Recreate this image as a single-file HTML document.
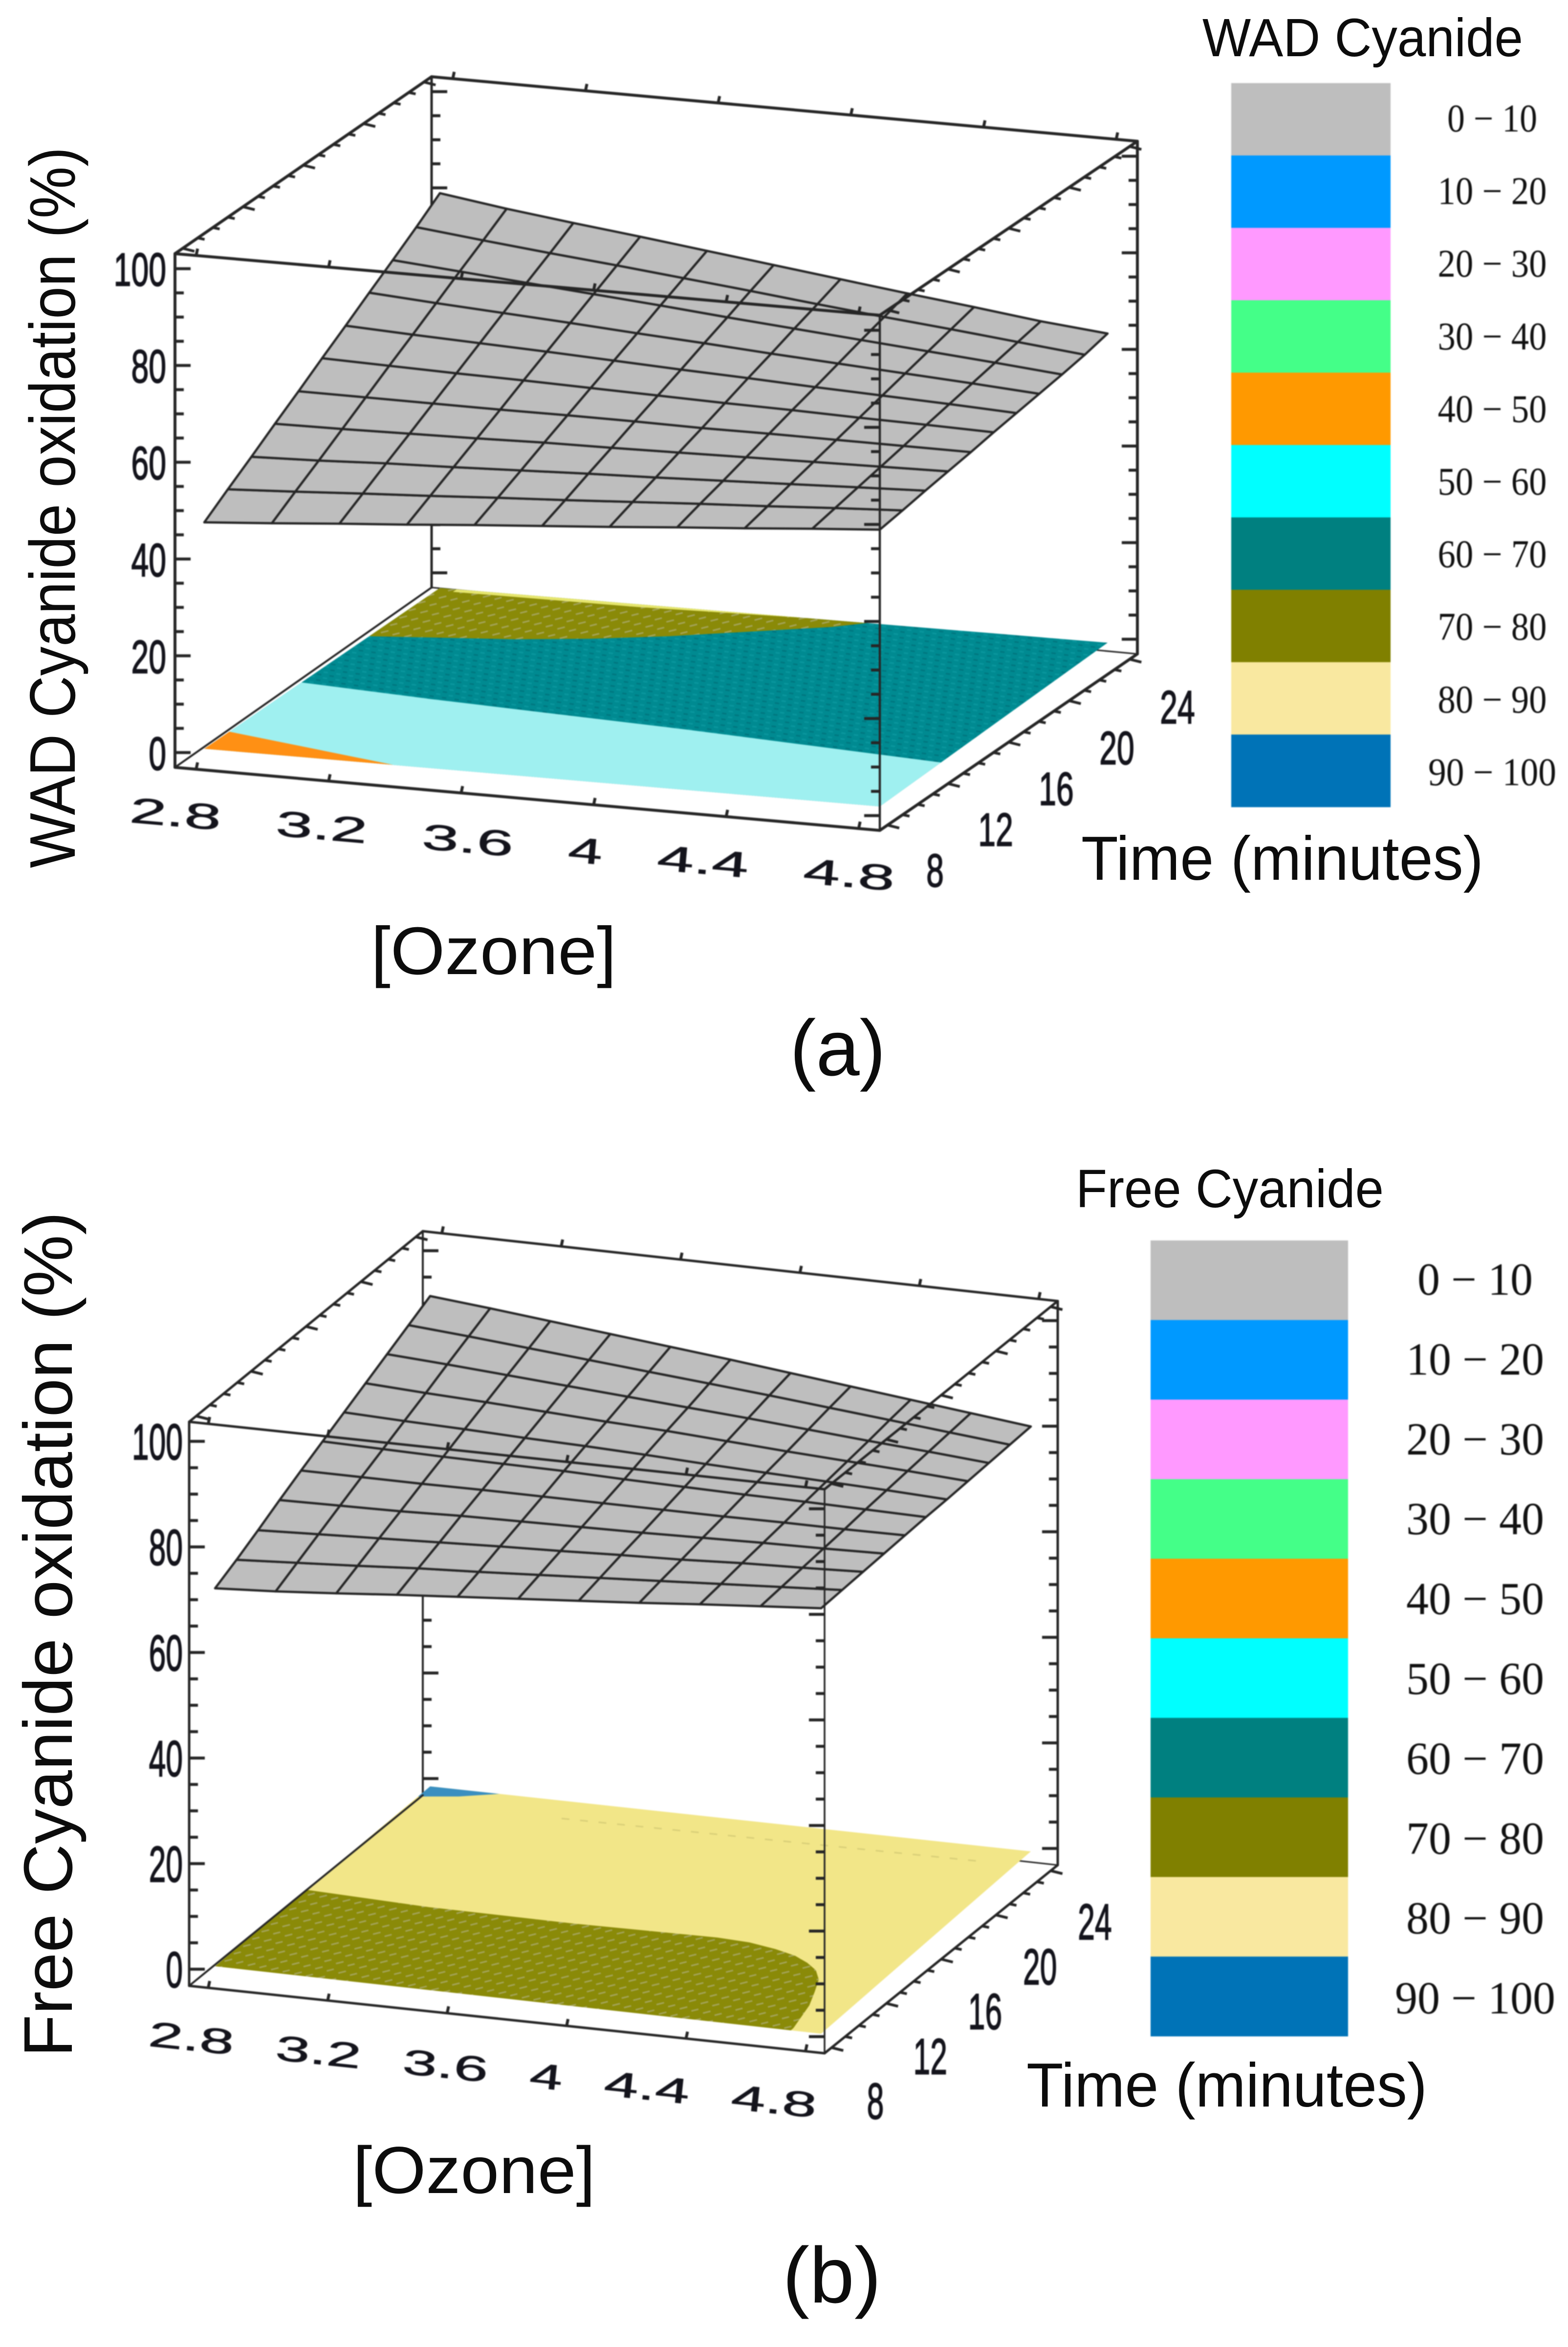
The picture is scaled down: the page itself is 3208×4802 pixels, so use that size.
<!DOCTYPE html>
<html lang="en">
<head>
<meta charset="utf-8">
<title>WAD and free cyanide oxidation response surfaces</title>
<style>
html,body{margin:0;padding:0;background:#fff}
svg{display:block}
#panel-a,#panel-b{filter:blur(1.1px)}
.title{font-family:"Liberation Sans",sans-serif;fill:#0c0c0c}
.tick{font-family:"Liberation Sans",sans-serif;fill:#14141c;stroke:#14141c;stroke-width:2px}
.legend-text{font-family:"Liberation Serif",serif;fill:#111}
</style>
</head>
<body>
<svg id="figure" xmlns="http://www.w3.org/2000/svg" width="3208" height="4802" viewBox="0 0 3208 4802">
  <defs>
    <pattern id="teal-speckle" width="26" height="12" patternUnits="userSpaceOnUse" patternTransform="rotate(8)">
      <rect width="26" height="12" fill="#008a91"/>
      <rect x="2" y="2" width="9" height="3" fill="#00767f"/>
      <rect x="15" y="8" width="9" height="3" fill="#0a979e"/>
    </pattern>
    <pattern id="olive-speckle" width="44" height="20" patternUnits="userSpaceOnUse" patternTransform="rotate(-14)">
      <rect width="44" height="20" fill="#8a8a08"/>
      <rect x="3" y="3" width="16" height="3" fill="#a4a45c"/>
      <rect x="25" y="13" width="15" height="3" fill="#a4a45c"/>
    </pattern>
  </defs>

  <g id="panel-a"></g>
  <g id="panel-b"></g>

  <text class="title" transform="translate(153,1776) rotate(-90)" font-size="132" textLength="1475" lengthAdjust="spacingAndGlyphs">WAD Cyanide oxidation (%)</text>
  <text class="title" x="759" y="1993" font-size="138" textLength="502" lengthAdjust="spacingAndGlyphs">[Ozone]</text>
  <text class="title" x="2212" y="1800" font-size="127" textLength="823" lengthAdjust="spacingAndGlyphs">Time (minutes)</text>
  <text class="title" x="2460" y="115" font-size="110" textLength="656" lengthAdjust="spacingAndGlyphs">WAD Cyanide</text>
  <text class="title" x="1616" y="2200" font-size="162" textLength="196" lengthAdjust="spacingAndGlyphs">(a)</text>

  <text class="title" transform="translate(147,4209) rotate(-90)" font-size="141" textLength="1730" lengthAdjust="spacingAndGlyphs">Free Cyanide oxidation (%)</text>
  <text class="title" x="722" y="4487" font-size="136" textLength="496" lengthAdjust="spacingAndGlyphs">[Ozone]</text>
  <text class="title" x="2100" y="4310" font-size="127" textLength="820" lengthAdjust="spacingAndGlyphs">Time (minutes)</text>
  <text class="title" x="2201" y="2470" font-size="110" textLength="630" lengthAdjust="spacingAndGlyphs">Free Cyanide</text>
  <text class="title" x="1601" y="4711" font-size="162" textLength="202" lengthAdjust="spacingAndGlyphs">(b)</text>
</svg>

<script>
// ---------- Shared axis data ----------
const ozoneTicks = ['2.8', '3.2', '3.6', '4', '4.4', '4.8'];
const timeTicks = ['8', '12', '16', '20', '24'];
const percentTicks = ['0', '20', '40', '60', '80', '100'];
const legendLabels = ['0 − 10', '10 − 20', '20 − 30', '30 − 40', '40 − 50', '50 − 60', '60 − 70', '70 − 80', '80 − 90', '90 − 100'];
const legendColors = ['#bebebe', '#0099ff', '#ff99ff', '#44ff88', '#ff9900', '#00ffff', '#008080', '#808000', '#f9e8a0', '#0073b7'];

// Surface grid coordinates
const surfaceOzone = [2.8, 3.0, 3.2, 3.4, 3.6, 3.8, 4.0, 4.2, 4.4, 4.6, 4.8];
const surfaceTime = [8, 9.6, 11.2, 12.8, 14.4, 16, 17.6, 19.2, 20.8, 22.4, 24];

// ---------- Panel (a) WAD cyanide ----------
const wadSurface = [
  [46.8, 47.8, 48.9, 49.9, 51.0, 52.0, 53.0, 54.1, 55.1, 56.2, 57.2],
  [50.3, 51.0, 51.8, 52.5, 53.3, 54.0, 54.8, 55.6, 56.3, 57.1, 57.8],
  [53.7, 54.1, 54.7, 55.1, 55.6, 56.1, 56.5, 57.0, 57.5, 58.0, 58.5],
  [57.2, 57.3, 57.5, 57.7, 58.0, 58.1, 58.3, 58.5, 58.7, 58.9, 59.1],
  [60.6, 60.5, 60.4, 60.3, 60.3, 60.2, 60.0, 60.0, 59.9, 59.8, 59.7],
  [64.1, 63.7, 63.3, 63.0, 62.6, 62.2, 61.8, 61.5, 61.1, 60.8, 60.4],
  [67.5, 66.8, 66.2, 65.6, 64.9, 64.2, 63.6, 62.9, 62.3, 61.7, 61.0],
  [71.0, 70.0, 69.1, 68.2, 67.2, 66.3, 65.3, 64.4, 63.5, 62.6, 61.6],
  [74.4, 73.2, 72.0, 70.8, 69.6, 68.3, 67.1, 65.9, 64.7, 63.5, 62.2],
  [77.9, 76.3, 74.8, 73.4, 71.9, 70.4, 68.8, 67.3, 65.9, 64.4, 62.9],
  [81.6, 79.5, 77.7, 76.0, 74.2, 72.4, 70.6, 68.8, 67.1, 65.3, 63.9]
];
const wadOliveOzone = [2.8, 3.0, 3.2, 3.4, 3.6, 3.8, 4.0, 4.08];
const wadOliveTime = [19.2, 19.6, 20.0, 20.6, 21.4, 22.4, 23.4, 24];
const wadStripOzone = [2.85, 3.4, 3.9];
const wadStripTime = [23.75, 23.75, 24];
const wadCyanOzone = [2.8, 3.2, 3.6, 4.0, 4.4, 4.8];
const wadCyanTime = [14.6, 14.1, 13.7, 13.3, 12.8, 12.3];
const wadOrangeOzone = [2.8, 3.36];
const wadOrangeTime = [9.7, 8];

// ---------- Panel (b) free cyanide ----------
const freeSurface = [
  [71.6, 72.3, 73.2, 74.2, 75.1, 76.0, 76.9, 77.8, 78.8, 79.7, 80.6],
  [73.6, 74.3, 75.0, 75.8, 76.4, 77.1, 77.8, 78.5, 79.2, 79.9, 80.6],
  [75.8, 76.3, 76.8, 77.3, 77.8, 78.2, 78.7, 79.1, 79.7, 80.1, 80.6],
  [78.1, 78.3, 78.5, 78.9, 79.1, 79.3, 79.5, 79.8, 80.1, 80.3, 80.6],
  [80.3, 80.3, 80.3, 80.4, 80.4, 80.4, 80.4, 80.4, 80.5, 80.5, 80.6],
  [82.4, 82.2, 82.0, 81.9, 81.8, 81.5, 81.3, 81.1, 81.0, 80.8, 80.6],
  [84.5, 84.1, 83.8, 83.4, 83.1, 82.7, 82.2, 81.8, 81.4, 81.0, 80.5],
  [86.6, 86.0, 85.5, 84.9, 84.3, 83.8, 83.1, 82.4, 81.8, 81.2, 80.5],
  [88.7, 88.0, 87.2, 86.4, 85.6, 84.8, 84.0, 83.1, 82.2, 81.4, 80.5],
  [90.8, 89.9, 88.9, 87.9, 86.9, 85.9, 84.9, 83.8, 82.7, 81.6, 80.5],
  [92.9, 91.8, 90.6, 89.4, 88.2, 87.0, 85.7, 84.4, 83.1, 81.8, 80.5]
];
const freeOliveOzone = [2.8, 3.22, 3.70, 4.17, 4.28, 4.38, 4.46, 4.52, 4.57, 4.61, 4.64, 4.67, 4.70];
const freeOliveTime = [14.8, 14.5, 14.46, 14.6, 14.5, 14.2, 13.85, 13.4, 12.9, 12.2, 11.2, 10.1, 8.2];
const freeBlueOzone = [2.8, 2.92, 3.03];
const freeBlueTime = [23.1, 23.45, 24];
const freeHazeOzone = [3.3, 4.0, 4.7];
const freeHazeTime = [22.6, 22.7, 22.8];

// ---------- Panel geometry ----------
const layoutA = {
  key: 'panel-a', parent: 'panel-a',
  box: { fbl: [358, 1570], fbr: [1800, 1699], bbr: [2327, 1338], bbl: [883, 1202], ftl: [358, 519], ftr: [1800, 645], btr: [2327, 289], btl: [883, 157] },
  plane: { fl: [418, 1532], fr: [1800, 1650], br: [2266, 1315], bl: [900, 1203] },
  zPx: 9.9, zLo: -3.05, zHi: 103.1, edge: 6,
  zLabelX: 340, zFont: 96, zScale: 0.67, zH: 35,
  tFont: 96, tScale: 0.67, t8: [1913, 1779], t24: [2409, 1445],
  xStart: 357, xY0: 1664, xSlope: 0.0901, xFont: 73, xW3: 187, xW1: 70, xGap: 112, xRot: 5,
  legend: { x: 2519, w: 326, y: 170, h: 148.1, lx: 3053, lFont: 80, perDigit: 39, extra: 67, ly0: 242, ldy: 148.6, lb: 27 },
  surface: wadSurface
};
const layoutB = {
  key: 'panel-b', parent: 'panel-b',
  box: { fbl: [387, 4063], fbr: [1687, 4201], bbr: [2164, 3816], bbl: [865, 3673], ftl: [387, 2909], ftr: [1687, 3047], btr: [2164, 2662], btl: [865, 2519] },
  plane: { fl: [440, 4023], fr: [1680, 4161], br: [2109, 3788], bl: [880, 3655] },
  zPx: 10.8, zLo: -3.15, zHi: 103.7, edge: 5,
  zLabelX: 374, zFont: 104, zScale: 0.6, zH: 37,
  tFont: 104, tScale: 0.6, t8: [1791, 4298], t24: [2240, 3931],
  xStart: 389, xY0: 4169, xSlope: 0.108, xFont: 72, xW3: 175, xW1: 67, xGap: 85, xRot: 6,
  legend: { x: 2354, w: 404, y: 2538, h: 162.8, lx: 3018, lFont: 94, perDigit: 46, extra: 98, ly0: 2617, ldy: 163.4, lb: 32 },
  surface: freeSurface
};

const SVG_NS = 'http://www.w3.org/2000/svg';
function make(tag, parent, attrs) {
  const node = document.createElementNS(SVG_NS, tag);
  for (const k in attrs) node.setAttribute(k, attrs[k]);
  parent.appendChild(node);
  return node;
}
const lerp = (a, b, f) => a + (b - a) * f;
const lerpPt = (a, b, f) => [lerp(a[0], b[0], f), lerp(a[1], b[1], f)];

// Axis functions
const ozoneFrac = o => (o - 2.8) / 2;
const timeFrac = t => (t - 8) / 16;
function project(L, o, t, z) {
  const u = ozoneFrac(o), v = timeFrac(t);
  const front = lerpPt(L.plane.fl, L.plane.fr, u);
  const back = lerpPt(L.plane.bl, L.plane.br, u);
  const p = lerpPt(front, back, v);
  return [p[0], p[1] - z * L.zPx];
}
const zFrac = (L, z) => (z - L.zLo) / (L.zHi - L.zLo);
const ptsToString = pts => pts.map(p => p[0].toFixed(1) + ',' + p[1].toFixed(1)).join(' ');

function edge(L, g, a, b, name, w) {
  const line = make('line', g, { x1: a[0], y1: a[1], x2: b[0], y2: b[1], stroke: '#262626', 'stroke-width': w || L.edge, 'stroke-linecap': 'round' });
  
  
}
function tick(g, p, dx, dy, w) {
  const t = make('line', g, { x1: p[0], y1: p[1], x2: p[0] + dx, y2: p[1] + dy, stroke: '#262626', 'stroke-width': w });
  
  
}
// percent ticks every 5 along a vertical edge
function zTicks(L, g, bottom, top, dir) {
  for (let z = 0; z <= 100; z += 5) {
    const major = z % 20 === 0;
    tick(g, lerpPt(bottom, top, zFrac(L, z)), dir * (major ? 32 : 18), 0, 6);
  }
}
// time ticks every 1 minute along a depth edge
function tTicks(g, front, back) {
  for (let t = 8; t <= 24; t += 1) {
    const major = t % 4 === 0;
    const f = 0.03 + 0.94 * timeFrac(t);
    tick(g, lerpPt(front, back, f), major ? 24 : 14, major ? 6 : 3, 5.5);
  }
}
// ozone ticks every 0.4 along a width edge
function oTicks(g, left, right) {
  for (let i = 0; i < ozoneTicks.length; i++) {
    const f = 0.03 + 0.94 * ozoneFrac(parseFloat(ozoneTicks[i]));
    tick(g, lerpPt(left, right, f), 3, -14, 6);
  }
}
function region(L, g, name, fill, ozone, time, closing) {
  const pts = ozone.map((o, i) => project(L, o, time[i], 0));
  closing.forEach(c => pts.push(project(L, c[0], c[1], 0)));
  const poly = make('polygon', g, { points: ptsToString(pts), fill: fill });
  
  
}

function drawBackFrame(L, g) {
  const B = L.box;
  edge(L, g, B.btl, B.btr, 'back-top-edge');
  edge(L, g, B.btl, B.bbl, 'back-left-edge', L.edge - 1);
  edge(L, g, B.btr, B.bbr, 'back-right-edge');
  edge(L, g, B.bbl, B.bbr, 'back-bottom-edge', 3);
  edge(L, g, B.ftl, B.btl, 'top-left-depth-edge');
  zTicks(L, g, B.bbl, B.btl, 1);
  zTicks(L, g, B.bbr, B.btr, -1);
  tTicks(g, B.ftl, B.btl);
  oTicks(g, B.btl, B.btr);
}
function drawSurface(L, g) {
  const Z = L.surface;
  for (let r = 0; r < surfaceTime.length - 1; r++) {
    for (let c = 0; c < surfaceOzone.length - 1; c++) {
      const pts = [
        project(L, surfaceOzone[c], surfaceTime[r], Z[r][c]),
        project(L, surfaceOzone[c + 1], surfaceTime[r], Z[r][c + 1]),
        project(L, surfaceOzone[c + 1], surfaceTime[r + 1], Z[r + 1][c + 1]),
        project(L, surfaceOzone[c], surfaceTime[r + 1], Z[r + 1][c])
      ];
      const cell = make('polygon', g, { points: ptsToString(pts), fill: '#bebebe', stroke: '#262626', 'stroke-width': 4.6, 'stroke-linejoin': 'round' });
      
      
    }
  }
}
function drawFrontFrame(L, g) {
  const B = L.box;
  edge(L, g, B.fbl, B.bbl, 'bottom-left-depth-edge', 4);
  edge(L, g, B.ftl, B.ftr, 'front-top-edge');
  edge(L, g, B.ftr, B.btr, 'top-right-depth-edge');
  edge(L, g, B.ftl, B.fbl, 'front-left-edge');
  edge(L, g, B.ftr, B.fbr, 'front-right-edge', L.edge - 1.5);
  edge(L, g, B.fbl, B.fbr, 'front-bottom-edge');
  edge(L, g, B.fbr, B.bbr, 'bottom-right-depth-edge');
  zTicks(L, g, B.fbl, B.ftl, 1);
  zTicks(L, g, B.fbr, B.ftr, -1);
  tTicks(g, B.fbr, B.bbr);
  oTicks(g, B.fbl, B.fbr);
  oTicks(g, B.ftl, B.ftr);
  tTicks(g, B.ftr, B.btr);
}
function drawLabels(L, g) {
  // percent axis labels
  percentTicks.forEach(label => {
    const y = lerp(L.box.fbl[1], L.box.ftl[1], zFrac(L, parseFloat(label)));
    const t = make('text', g, { class: 'tick', 'font-size': L.zFont, 'text-anchor': 'end', transform: 'translate(' + L.zLabelX + ',' + (y + L.zH) + ') scale(' + L.zScale + ',1)' });
    t.textContent = label;
    
    
  });
  // time axis labels
  timeTicks.forEach(label => {
    const p = lerpPt(L.t8, L.t24, timeFrac(parseFloat(label)));
    const t = make('text', g, { class: 'tick', 'font-size': L.tFont, 'text-anchor': 'middle', transform: 'translate(' + p[0] + ',' + (p[1] + L.zH) + ') scale(' + L.tScale + ',1)' });
    t.textContent = label;
    
    
  });
  // ozone axis labels: laid out sequentially with a constant gap
  let cx = L.xStart;
  ozoneTicks.forEach((label, i) => {
    const w = label.length > 1 ? L.xW3 : L.xW1;
    if (i > 0) {
      const prevW = ozoneTicks[i - 1].length > 1 ? L.xW3 : L.xW1;
      cx += L.xGap + (w + prevW) / 2;
    }
    const cy = L.xY0 + (cx - L.xStart) * L.xSlope + L.xFont * 0.36;
    const t = make('text', g, { class: 'tick', x: -w / 2, y: 0, 'font-size': L.xFont, textLength: w, lengthAdjust: 'spacingAndGlyphs', transform: 'translate(' + cx.toFixed(1) + ',' + cy.toFixed(1) + ') rotate(' + L.xRot + ')' });
    t.style.strokeWidth = '1px';
    t.textContent = label;
    
    
  });
}
function drawLegend(L, g) {
  const K = L.legend;
  legendColors.forEach((color, i) => {
    const r = make('rect', g, { x: K.x, y: K.y + i * K.h, width: K.w, height: K.h + 0.5, fill: color });
    
    
  });
  legendLabels.forEach((label, i) => {
    const digits = label.replace(/[^0-9]/g, '').length;
    const len = digits * K.perDigit + K.extra;
    const t = make('text', g, { class: 'legend-text', x: K.lx - len / 2, y: K.ly0 + i * K.ldy + K.lb, 'font-size': K.lFont, textLength: len, lengthAdjust: 'spacingAndGlyphs' });
    t.textContent = label;
    
    
  });
}

// ---------- Render panel (a) ----------
(function () {
  const L = layoutA;
  const g = document.getElementById(L.parent);
  drawBackFrame(L, g);
  region(L, g, 'contour-60-70', 'url(#teal-speckle)', [2.8, 4.8, 4.8, 2.8], [8, 8, 24, 24], []);
  region(L, g, 'contour-70-80', 'url(#olive-speckle)', wadOliveOzone, wadOliveTime, [[2.8, 24]]);
  region(L, g, 'contour-edge-strip', '#e6e66e', wadStripOzone, wadStripTime, [[2.85, 24]]);
  region(L, g, 'contour-50-60', '#9ff0f0', wadCyanOzone, wadCyanTime, [[4.8, 8], [2.8, 8]]);
  region(L, g, 'contour-40-50', '#ff9014', wadOrangeOzone, wadOrangeTime, [[2.8, 8]]);
  drawSurface(L, g);
  drawFrontFrame(L, g);
  drawLabels(L, g);
  drawLegend(L, g);
})();

// ---------- Render panel (b) ----------
(function () {
  const L = layoutB;
  const g = document.getElementById(L.parent);
  drawBackFrame(L, g);
  region(L, g, 'contour-80-90', '#f2e688', [2.8, 4.8, 4.8, 2.8], [8, 8, 24, 24], []);
  region(L, g, 'contour-90-100', '#3a8fc0', freeBlueOzone, freeBlueTime, [[2.8, 24]]);
  region(L, g, 'contour-70-80', 'url(#olive-speckle)', freeOliveOzone, freeOliveTime, [[4.70, 8], [2.8, 8]]);
  const haze = make('polyline', g, { points: ptsToString(freeHazeOzone.map((o, i) => project(L, o, freeHazeTime[i], 0))), fill: 'none', stroke: '#d9cf78', 'stroke-width': 3, 'stroke-dasharray': '16 22' });
  
  
  drawSurface(L, g);
  drawFrontFrame(L, g);
  drawLabels(L, g);
  drawLegend(L, g);
})();
</script>
</body>
</html>
